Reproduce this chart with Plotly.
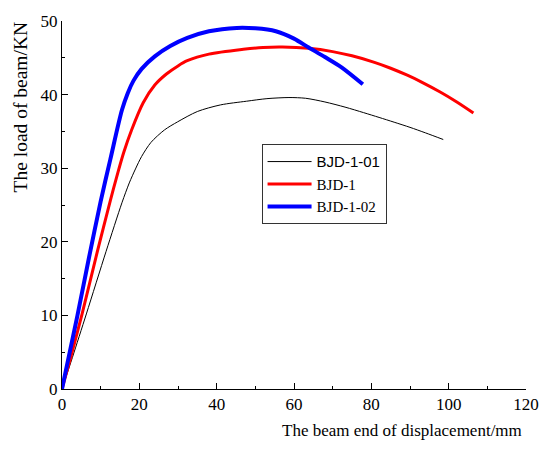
import plotly.graph_objects as go

# BJD-1-01 (thin black)
x_bjd101 = [0, 2.7, 6.3, 11.4, 15.5, 17.4, 19, 20.6, 23, 26.5, 29.9, 35, 41, 47.7, 53, 58.7, 63, 68, 73.2, 78, 82, 85.9, 90, 94, 98.6]
y_bjd101 = [0, 4.3, 10.2, 18.7, 25.3, 28.0, 29.9, 31.6, 33.5, 35.2, 36.3, 37.7, 38.6, 39.1, 39.45, 39.6, 39.5, 39.0, 38.3, 37.55, 36.9, 36.25, 35.55, 34.8, 33.9]

# BJD-1 (red)
x_bjd1 = [0, 2.2, 5.2, 9.2, 12.5, 14.5, 16, 18, 21, 24, 27, 30, 32.4, 38, 46.9, 52, 57, 63.8, 70, 75, 80.8, 85, 89.3, 93, 97.8, 102, 106.4]
y_bjd1 = [0, 4.2, 10.2, 18.8, 25.6, 29.5, 32.2, 35.2, 38.9, 41.3, 42.8, 43.9, 44.6, 45.5, 46.15, 46.4, 46.46, 46.29, 45.84, 45.27, 44.38, 43.58, 42.63, 41.70, 40.35, 39.03, 37.5]

# BJD-1-02 (blue)
x_bjd102 = [0, 2, 4, 7, 10, 12.5, 15.5, 17, 18.5, 20.6, 24, 28, 32.4, 38, 45.2, 50, 55.3, 60, 63.8, 68, 72.3, 77.8]
y_bjd102 = [0, 5.0, 10.0, 17.9, 25.5, 31.2, 37.9, 40.2, 41.9, 43.5, 45.2, 46.6, 47.7, 48.6, 49.06, 49.0, 48.6, 47.6, 46.4, 45.1, 43.7, 41.4]

x_ticks = [0, 20, 40, 60, 80, 100, 120]
y_ticks = [0, 10, 20, 30, 40, 50]

serif = "Liberation Serif"

fig = go.Figure()
fig.add_trace(go.Scatter(x=x_bjd101, y=y_bjd101, mode="lines",
                         name='<span style="font-family:Liberation Sans">BJD-1-01</span>',
                         line=dict(color="black", width=1, shape="spline", smoothing=0.8)))
fig.add_trace(go.Scatter(x=x_bjd1, y=y_bjd1, mode="lines", name="BJD-1",
                         line=dict(color="#ff0000", width=3, shape="spline", smoothing=0.8)))
fig.add_trace(go.Scatter(x=x_bjd102, y=y_bjd102, mode="lines", name="BJD-1-02",
                         line=dict(color="#0000ff", width=4, shape="spline", smoothing=0.8)))

axis_common = dict(
    showgrid=False, zeroline=False, showline=True, linecolor="black", linewidth=1,
    ticks="inside", ticklen=6, tickwidth=1, tickcolor="black",
    tickfont=dict(family=serif, size=17, color="black"),
)

fig.update_xaxes(range=[0, 120], tickvals=x_ticks, ticktext=[str(v) for v in x_ticks],
                 minor=dict(ticks="inside", ticklen=3, tickwidth=1, tickcolor="black", dtick=10, tick0=0),
                 **axis_common)
fig.update_yaxes(range=[0, 50], tickvals=y_ticks, ticktext=[str(v) for v in y_ticks],
                 minor=dict(ticks="inside", ticklen=3, tickwidth=1, tickcolor="black", dtick=5, tick0=0),
                 **axis_common)

fig.add_annotation(text="The beam end of displacement/mm", xref="paper", yref="paper",
                   x=0.733, y=-0.113, xanchor="center", yanchor="middle", showarrow=False,
                   font=dict(family=serif, size=17, color="black"))
fig.add_annotation(text="The load of beam/KN", xref="paper", yref="paper",
                   x=-0.089, y=0.767, xanchor="center", yanchor="middle", showarrow=False,
                   textangle=-90, font=dict(family=serif, size=19.5, color="black"))

fig.update_layout(
    width=551, height=450,
    margin=dict(l=62, r=17, t=16, b=61),
    paper_bgcolor="white", plot_bgcolor="white",
    showlegend=True,
    legend=dict(x=(265 - 62) / 472, y=(389 - 141) / 373, xanchor="left", yanchor="top",
                bordercolor="#333333", borderwidth=1, bgcolor="white",
                font=dict(family=serif, size=15, color="black"),
                itemwidth=44, tracegroupgap=0),
)

fig.write_html("out.html")
